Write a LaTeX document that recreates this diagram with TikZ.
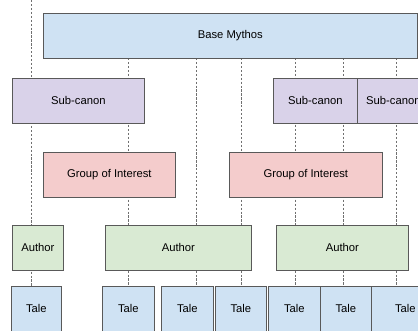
\documentclass[tikz,border=0pt]{standalone}
\usepackage{fontspec}
\setmainfont{Liberation Sans}
\usepackage{tikz}
\usetikzlibrary{backgrounds}
\definecolor{MythBlue}{HTML}{CFE2F3}
\definecolor{CanonLilac}{HTML}{D9D2E9}
\definecolor{GroupRose}{HTML}{F4CCCC}
\definecolor{AuthorGreen}{HTML}{D9EAD3}
\definecolor{EdgeGray}{HTML}{595959}
\definecolor{LaneGray}{HTML}{707070}

\begin{document}
\begin{tikzpicture}[
  x=0.25mm, y=-0.25mm,
  piece/.style={draw=EdgeGray, line width=0.5pt, anchor=north west, inner sep=0pt,
    minimum height=11.25mm, align=center, font=\fontsize{8}{9.6}\selectfont},
  mythbox/.style={piece, fill=MythBlue},
  canonbox/.style={piece, fill=CanonLilac},
  groupbox/.style={piece, fill=GroupRose},
  authorbox/.style={piece, fill=AuthorGreen},
  talebox/.style={piece, fill=MythBlue},
  lane/.style={draw=LaneGray, line width=0.4pt, dash pattern=on 1.6pt off 1.2pt}
]
\useasboundingbox (0,0) rectangle (418,330);
\clip (0,0) rectangle (418,330);
% top layer
\node[mythbox, minimum width=93.5mm] (base) at (43,13) {Base Mythos};
% sub-canons
\node[canonbox, minimum width=33mm] (subA) at (12,78) {Sub-canon};
\node[canonbox, minimum width=21mm] (subB) at (273,78) {Sub-canon};
\node[canonbox, minimum width=18mm] (subC) at (357,78) {Sub-canon};
% groups
\node[groupbox, minimum width=33mm] (groupA) at (43,152) {Group of Interest};
\node[groupbox, minimum width=38.25mm] (groupB) at (229,152) {Group of Interest};
% authors
\node[authorbox, minimum width=12.75mm] (authorA) at (12,225) {Author};
\node[authorbox, minimum width=36.5mm] (authorB) at (105,225) {Author};
\node[authorbox, minimum width=33mm] (authorC) at (276,225) {Author};
% tales
\node[talebox, minimum width=12.5mm] (taleA) at (11,286) {Tale};
\node[talebox, minimum width=13mm] (taleB) at (102,286) {Tale};
\node[talebox, minimum width=13mm] (taleC) at (161,286) {Tale};
\node[talebox, minimum width=12.75mm] (taleD) at (215,286) {Tale};
\node[talebox, minimum width=13mm] (taleE) at (268,286) {Tale};
\node[talebox, minimum width=12.75mm] (taleF) at (320,286) {Tale};
\node[talebox, minimum width=17mm] (taleG) at (371,286) {Tale};
% dashed lanes behind the boxes
\begin{scope}[on background layer]
\coordinate (topA) at (31,0);
\draw[lane] (topA) -- (topA |- taleA.north);
\foreach \x/\t in {128/B,196/C,241/D,295/E,343/F,396/G}{
  \coordinate (top\t) at (\x,58);
  \draw[lane] (top\t) -- (top\t |- tale\t.north);
}
\end{scope}
\end{tikzpicture}
\end{document}
